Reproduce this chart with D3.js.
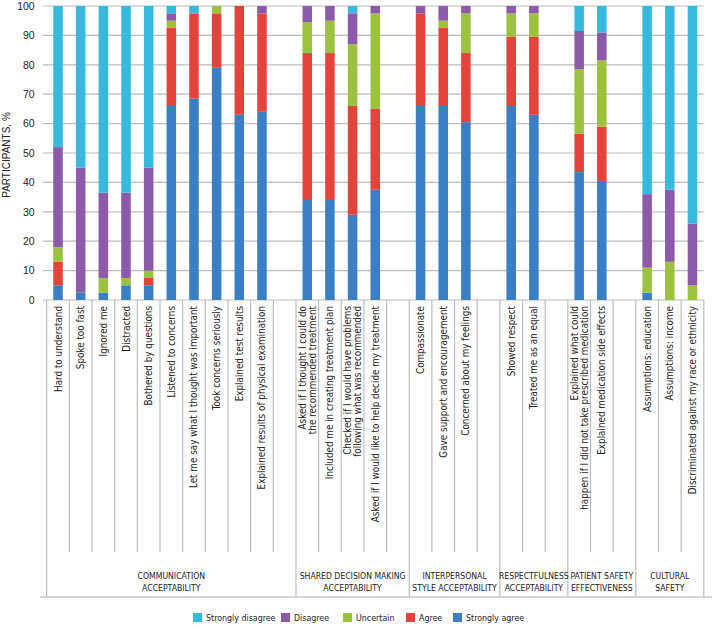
<!DOCTYPE html>
<html><head><meta charset="utf-8">
<script src="https://cdn.jsdelivr.net/npm/d3@7"></script>
<style>
body{margin:0;background:#fff;}
svg{display:block;}
</style></head>
<body>
<svg id="chart" width="714" height="631"></svg>
<script>
// ---- DATA ----
const categories = [
  "Hard to understand","Spoke too fast","Ignored me","Distracted","Bothered by questions",
  "Listened to concerns","Let me say what I thought was important","Took concerns seriously",
  "Explained test results","Explained results of physical examination","",
  "Asked if I thought I could do\nthe recommended treatment","Included me in creating treatment plan",
  "Checked if I would have problems\nfollowing what was recommended","Asked if I would like to help decide my treatment","",
  "Compassionate","Gave support and encouragement","Concerned about my feelings","",
  "Showed respect","Treated me as an equal","",
  "Explained what could\nhappen if I did not take prescribed medication","Explained medication side effects","",
  "Assumptions: education","Assumptions: income","Discriminated against my race or ethnicity"
];
const stronglyAgree    = [5,2.5,2.5,5,5,66,68.5,79,63,64,null,34,34,29,37.5,null,66,66,60.5,null,66,63,null,43.5,40.5,null,2.5,0,0];
const agree            = [8,0,0,0,2.5,26.5,29,18.5,37,33.5,null,50,50,37,27.5,null,31.5,26.5,23.5,null,23.5,26.5,null,13,18.5,null,0,0,0];
const uncertain        = [5,0,5,2.5,2.5,2.5,0,2.5,0,0,null,10.5,11,21,32.5,null,0,2.5,13.5,null,8,8,null,22,22.5,null,8.5,13,5];
const disagree         = [34,42.5,29,29,35,2.5,0,0,0,2.5,null,5.5,5,10.5,2.5,null,2.5,5,2.5,null,2.5,2.5,null,13,9.5,null,25,24.5,21];
const stronglyDisagree = [48,55,63.5,63.5,55,2.5,2.5,0,0,0,null,0,0,2.5,0,null,0,0,0,null,0,0,null,8.5,9,null,64,62.5,74];
const seriesNames = ["Strongly agree","Agree","Uncertain","Disagree","Strongly disagree"];
const seriesColors = ["#3a7fc4","#e2433b","#9cc13f","#8b5aa8","#36b9dc"];
const legendOrder = ["Strongly disagree","Disagree","Uncertain","Agree","Strongly agree"];
const groupLabels = [["COMMUNICATION","ACCEPTABILITY"],["SHARED DECISION MAKING","ACCEPTABILITY"],
  ["INTERPERSONAL","STYLE ACCEPTABILITY"],["RESPECTFULNESS","ACCEPTABILITY"],
  ["PATIENT SAFETY","EFFECTIVENESS"],["CULTURAL","SAFETY"]];
const groupSizes = [11,5,4,3,3,3];
const yTicks = [0,10,20,30,40,50,60,70,80,90,100];
const yTitle = "PARTICIPANTS, %";

// ---- CHART ----
(function(){
const svg = d3.select("#chart");
const font = "'DejaVu Sans Condensed','Liberation Sans Narrow','Liberation Sans',sans-serif";
const pL = 46.7, pR = 703.8, pT = 6, pB = 300;
const idx = categories.map((d,i)=>i);
const x = d3.scaleBand().domain(idx).range([pL,pR]).paddingInner(0.58).paddingOuter(0.29);
const slotW = (pR-pL)/categories.length;
const y = d3.scaleLinear().domain([0,100]).range([pB,pT]);
const color = d3.scaleOrdinal().domain(seriesNames).range(seriesColors);

// gridlines
svg.append("g").selectAll("line").data(yTicks).join("line")
  .attr("x1",43).attr("x2",pR).attr("y1",d=>y(d)).attr("y2",d=>y(d))
  .attr("stroke","#bdbdbd").attr("stroke-width",1.2);

// y tick labels
const yAxis = svg.append("g").attr("transform",`translate(${pL},0)`)
  .call(d3.axisLeft(y).tickValues(yTicks).tickSize(0).tickPadding(12));
yAxis.select(".domain").remove();
yAxis.selectAll("text").attr("font-family","'Liberation Sans',Arial,sans-serif").attr("font-size",10.5).attr("fill","#222");

svg.append("text").attr("transform",`translate(6,${(pT+pB)/2+2}) rotate(-90)`)
  .attr("text-anchor","middle").attr("dominant-baseline","central")
  .attr("font-family","'Liberation Sans',Arial,sans-serif").attr("font-size",10).attr("fill","#222").text(yTitle);

// stacked bars
const table = idx.map(i=>({i, "Strongly agree":stronglyAgree[i]||0, "Agree":agree[i]||0,
  "Uncertain":uncertain[i]||0, "Disagree":disagree[i]||0, "Strongly disagree":stronglyDisagree[i]||0}));
const stacked = d3.stack().keys(seriesNames)(table);
svg.append("g").selectAll("g").data(stacked).join("g").attr("fill",d=>color(d.key))
  .selectAll("rect").data(d=>d.filter(s=>s[1]-s[0]>0)).join("rect")
  .attr("x",d=>x(d.data.i)).attr("width",x.bandwidth())
  .attr("y",d=>y(d[1])).attr("height",d=>y(d[0])-y(d[1]));

// separators under axis
const bounds = d3.range(categories.length+1).map(k=>pL+k*slotW);
const groupBounds = [0];
groupSizes.forEach(s=>groupBounds.push(groupBounds[groupBounds.length-1]+s));
svg.append("g").selectAll("line").data(bounds.map((b,k)=>({b,k}))).join("line")
  .attr("x1",d=>d.b).attr("x2",d=>d.b).attr("y1",pB)
  .attr("y2",d=>groupBounds.includes(d.k)?597:552)
  .attr("stroke","#bdbdbd").attr("stroke-width",1.2);
svg.append("line").attr("x1",40).attr("x2",712).attr("y1",597).attr("y2",597)
  .attr("stroke","#c8c8c8").attr("stroke-width",1.5);

// category labels
const labG = svg.append("g");
categories.forEach((c,i)=>{
  if(!c) return;
  const lines = c.split("\n");
  const cx = x(i)+x.bandwidth()/2;
  lines.forEach((ln,j)=>{
    const off = lines.length===1?0:(j===0?-5:5);
    labG.append("text").attr("transform",`translate(${cx+off},306) rotate(-90)`)
      .attr("text-anchor","end").attr("dominant-baseline","central")
      .attr("font-family",font).attr("font-size",9.8).attr("fill","#222").text(ln);
  });
});

// group labels
groupLabels.forEach((g,k)=>{
  const cx = pL + (groupBounds[k]+groupBounds[k+1])/2*slotW;
  g.forEach((ln,j)=>{
    svg.append("text").attr("x",cx).attr("y",579+j*12).attr("text-anchor","middle")
      .attr("font-family",font).attr("font-size",8.6).attr("fill","#222").text(ln);
  });
});

// legend
const legX = [193,281,343,406,453];
const lg = svg.append("g");
legendOrder.forEach((n,k)=>{
  lg.append("rect").attr("x",legX[k]).attr("y",613).attr("width",9).attr("height",9).attr("fill",color(n));
  lg.append("text").attr("x",legX[k]+13).attr("y",618).attr("dominant-baseline","central")
    .attr("font-family",font).attr("font-size",8.8).attr("fill","#222").text(n);
});
})();
</script>
</body></html>
